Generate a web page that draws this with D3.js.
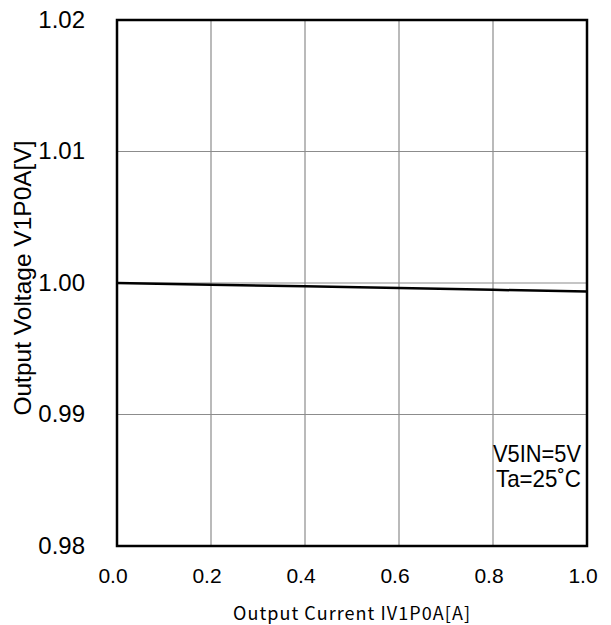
<!DOCTYPE html>
<html><head><meta charset="utf-8">
<script src="https://cdn.jsdelivr.net/npm/d3@7"></script>
<style>body{margin:0;background:#fff}</style>
</head><body>
<svg id="c" width="611" height="625"></svg>
<script>
const currents = [0.0, 0.2, 0.4, 0.6, 0.8, 1.0];
const voltages = [1.0000, 0.99987, 0.99975, 0.99962, 0.99948, 0.99935];
const xTicks = [0.0, 0.2, 0.4, 0.6, 0.8, 1.0];
const yTicks = [0.98, 0.99, 1.00, 1.01, 1.02];
const notes = ["V5IN=5V", "Ta=25\u02DAC"];

const svg = d3.select("#c");
const L = 117, R = 587, T = 20, B = 546;
const x = d3.scaleLinear().domain([0, 1]).range([L, R]);
const y = d3.scaleLinear().domain([0.98, 1.02]).range([B, T]);
const tickFont = "'Liberation Sans', Arial, sans-serif";

// grid
svg.append("g").selectAll("line").data(xTicks.slice(1, -1)).join("line")
  .attr("x1", d => x(d)).attr("x2", d => x(d)).attr("y1", T).attr("y2", B)
  .attr("stroke", "#8c8c8c").attr("stroke-width", 1.2);
svg.append("g").selectAll("line").data(yTicks.slice(1, -1)).join("line")
  .attr("y1", d => y(d)).attr("y2", d => y(d)).attr("x1", L).attr("x2", R)
  .attr("stroke", "#8c8c8c").attr("stroke-width", 1.2);

// data line
svg.append("path").datum(currents.map((c, i) => [c, voltages[i]]))
  .attr("d", d3.line().x(d => x(d[0])).y(d => y(d[1])))
  .attr("fill", "none").attr("stroke", "#000").attr("stroke-width", 2.5);

// frame
svg.append("rect").attr("x", L).attr("y", T).attr("width", R - L).attr("height", B - T)
  .attr("fill", "none").attr("stroke", "#000").attr("stroke-width", 2.5);

// tick labels
svg.append("g").selectAll("text").data(xTicks).join("text")
  .attr("x", d => x(d) - 4).attr("y", 583).attr("text-anchor", "middle")
  .attr("font-family", tickFont).attr("font-size", 21).text(d => d3.format(".1f")(d));
svg.append("g").selectAll("text").data(yTicks).join("text")
  .attr("x", 85).attr("y", d => y(d) + 7.5).attr("text-anchor", "end")
  .attr("font-family", tickFont).attr("font-size", 24).text(d => d3.format(".2f")(d));

// axis titles
svg.append("text").attr("x", 233).attr("y", 620).attr("text-anchor", "start")
  .attr("font-family", "'Noto Sans CJK JP', sans-serif").attr("font-size", 18)
  .attr("textLength", 237).attr("lengthAdjust", "spacing")
  .text("Output Current IV1P0A[A]");
svg.append("text").attr("transform", "translate(31,278) rotate(-90)").attr("text-anchor", "middle")
  .attr("font-family", tickFont).attr("font-size", 24.5)
  .text("Output Voltage V1P0A[V]");

// annotations
const noteW = [88, 85];
svg.append("g").selectAll("text").data(notes).join("text")
  .attr("x", (d, i) => 581 - noteW[i]).attr("y", (d, i) => 461.5 + i * 25.5)
  .attr("textLength", (d, i) => noteW[i]).attr("lengthAdjust", "spacingAndGlyphs")
  .attr("font-family", tickFont).attr("font-size", 24).text(d => d);
</script>
</body></html>
